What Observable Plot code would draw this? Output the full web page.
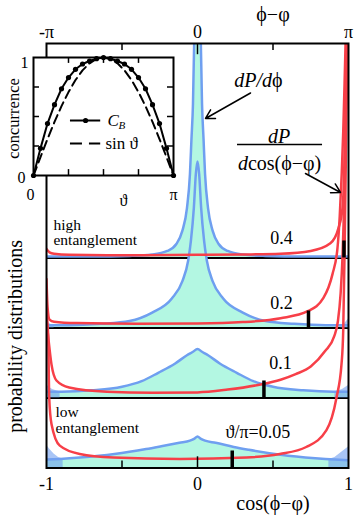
<!DOCTYPE html>
<html><head><meta charset="utf-8">
<script src="https://cdn.jsdelivr.net/npm/d3@7"></script>
<script src="https://cdn.jsdelivr.net/npm/@observablehq/plot@0.6"></script>
<style>
body{margin:0;background:#fff;}
#wrap{position:relative;width:354px;height:518px;overflow:hidden;}
#wrap svg{position:absolute;left:0;}
</style></head><body><div id="wrap"></div>
<script>
// ---------------- data ----------------
// panels: ϑ/π values, bottom to top
const thetas = [0.05, 0.1, 0.2, 0.4];
const thetaLabels = ["ϑ/π=0.05", "0.1", "0.2", "0.4"];
// dP/dφ  : [ (φ−φ)/π , height in panel units ]
const blue005 = [[-1,0.12],[-0.91,0.13],[-0.78,0.15],[-0.55,0.2],[-0.34,0.27],[-0.24,0.31],[-0.12,0.36],[-0.05,0.39],[-0.02,0.42],[0,0.45],[0.02,0.42],[0.05,0.39],[0.12,0.36],[0.24,0.3],[0.34,0.26],[0.55,0.19],[0.78,0.14],[0.91,0.12],[1,0.11]];
const blue01 = [[-1,0.09],[-0.9,0.09],[-0.7,0.11],[-0.5,0.16],[-0.37,0.24],[-0.26,0.36],[-0.15,0.49],[-0.07,0.61],[-0.03,0.66],[0,0.7],[0.03,0.66],[0.07,0.61],[0.15,0.49],[0.26,0.36],[0.37,0.24],[0.5,0.16],[0.7,0.11],[0.9,0.09],[1,0.09]];
const blue02 = [[-1,0.04],[-0.85,0.04],[-0.64,0.06],[-0.45,0.1],[-0.3,0.22],[-0.17,0.42],[-0.1,0.67],[-0.062,0.96],[-0.044,1.24],[-0.024,1.72],[-0.011,2.2],[0,2.38],[0.011,2.2],[0.024,1.72],[0.044,1.24],[0.062,0.96],[0.1,0.67],[0.17,0.42],[0.3,0.22],[0.45,0.1],[0.64,0.06],[0.85,0.04],[1,0.04]];
const blue04 = [[-1,0.02],[-0.7,0.02],[-0.45,0.03],[-0.3,0.05],[-0.2,0.1],[-0.14,0.2],[-0.1,0.39],[-0.07,0.71],[-0.05,1.2],[-0.04,1.7],[-0.03,2.2],[-0.02,3.3],[-0.01,5.3],[0,8],[0.01,5.3],[0.02,3.3],[0.03,2.2],[0.04,1.7],[0.05,1.2],[0.07,0.71],[0.1,0.39],[0.14,0.2],[0.2,0.1],[0.3,0.05],[0.45,0.03],[0.7,0.02],[1,0.02]];
// numerical noise envelope of dP/dφ at the edges
const noise005 = [[-1,0.33],[-0.98,0.27],[-0.95,0.2],[-0.92,0.15],[-0.89,0.13],[0.87,0.12],[0.91,0.15],[0.94,0.2],[0.97,0.25],[1,0.3]];
const noise01 = [[-1,0.19],[-0.98,0.15],[-0.96,0.12],[-0.93,0.1],[-0.91,0.09],[0.91,0.09],[0.93,0.1],[0.96,0.12],[0.98,0.15],[1,0.18]];
const noise02 = [[-1,0.12],[-0.985,0.07],[-0.97,0.05],[-0.95,0.04],[0.95,0.04],[0.97,0.05],[0.985,0.09],[1,0.13]];
const noise04 = [];
// dP/dcos(φ−φ) : [ cos(φ−φ) , height in panel units ]
const red005 = [[-1,2.2],[-0.989,1.9],[-0.982,1.0],[-0.967,0.63],[-0.912,0.32],[-0.78,0.2],[-0.558,0.15],[-0.117,0.13],[0.325,0.15],[0.545,0.2],[0.72,0.3],[0.854,0.54],[0.92,1.0],[0.954,1.49],[0.965,1.96],[0.974,3.1],[0.983,4.5],[0.993,6.1]];
const red01 = [[-1,1.1],[-0.99,0.9],[-0.967,0.48],[-0.934,0.25],[-0.85,0.15],[-0.6,0.09],[-0.3,0.076],[0,0.08],[0.2,0.12],[0.41,0.19],[0.55,0.26],[0.65,0.34],[0.75,0.45],[0.845,0.67],[0.905,0.88],[0.93,1.1],[0.948,1.5],[0.96,2.0],[0.972,2.9],[0.981,4.0],[0.99,5.1]];
const red02 = [[-1,0.7],[-0.993,0.3],[-0.98,0.12],[-0.95,0.09],[-0.8,0.07],[-0.4,0.06],[0,0.065],[0.3,0.085],[0.55,0.14],[0.73,0.24],[0.834,0.43],[0.894,0.77],[0.927,1.14],[0.942,1.6],[0.955,2.2],[0.965,2.8],[0.974,3.5],[0.981,4.1],[0.99,5]];
const red04 = [[-1,0.13],[-0.98,0.08],[-0.95,0.06],[-0.85,0.045],[-0.5,0.04],[0,0.045],[0.3,0.05],[0.55,0.06],[0.75,0.1],[0.88,0.21],[0.934,0.43],[0.96,0.71],[0.968,1.0],[0.976,1.6],[0.983,2.3],[0.99,3.1],[0.996,4]];
// inset: concurrence vs ϑ/π
const thetaGrid = [0,0.05,0.1,0.15,0.2,0.25,0.3,0.35,0.4,0.45,0.5,0.55,0.6,0.65,0.7,0.75,0.8,0.85,0.9,0.95,1];
const concurrenceCB = [0,0.23,0.44,0.6,0.735,0.83,0.9,0.945,0.97,0.99,1,0.99,0.97,0.945,0.9,0.83,0.735,0.6,0.44,0.23,0];
const sinTheta = [0,0.156,0.309,0.454,0.588,0.707,0.809,0.891,0.951,0.988,1,0.988,0.951,0.891,0.809,0.707,0.588,0.454,0.309,0.156,0];
// axes
const topTicks = [-1, 0, 1], topTickLabels = ["-π", "0", "π"];
const bottomTicks = [-1, 0, 1], bottomTickLabels = ["-1", "0", "1"];
const minorTicks = [-0.5, 0, 0.5];
const insetTicks = [0.25, 0.5, 0.75];

// ---------------- styling / layout ----------------
const FONT = "'Liberation Serif','DejaVu Serif','Times New Roman',serif";
const BLUE = "#6f9ff0", RED = "#f73f48", FILL = "#b3f7e2";
const yTop = 6.064;
const panels = [
  {theta: thetas[0], base: 0, blue: blue005, red: red005, noise: noise005},
  {theta: thetas[1], base: 1, blue: blue01, red: red01, noise: noise01},
  {theta: thetas[2], base: 2, blue: blue02, red: red02, noise: noise02},
  {theta: thetas[3], base: 3, blue: blue04, red: red04, noise: noise04}
];
const cbAt = t => concurrenceCB[thetaGrid.findIndex(g => Math.abs(g - t) < 1e-9)];

const marks = [];
// fills and separators, top panel first
for (const p of [...panels].reverse()) {
  marks.push(Plot.areaY(p.blue, {x: d => d[0], y1: p.base, y2: d => p.base + d[1], fill: FILL, curve: "monotone-x", clip: true}));
  if (p.base > 0) marks.push(Plot.ruleY([p.base], {stroke: "black", strokeWidth: 2}));
}
for (const p of panels) {
  if (p.noise.length) marks.push(Plot.areaY(p.noise, {x: d => d[0], y1: p.base, y2: d => p.base + d[1], z: d => d[0] < 0, fill: BLUE, fillOpacity: 0.6, clip: true}));
}
for (const p of panels) {
  marks.push(Plot.line(p.blue, {x: d => d[0], y: d => p.base + d[1], stroke: BLUE, strokeWidth: 2.5, curve: "monotone-x", clip: true}));
}
for (const p of panels) {
  marks.push(Plot.line(p.red, {x: d => d[0], y: d => p.base + d[1], stroke: RED, strokeWidth: 2.5, curve: "monotone-x", clip: true}));
}
// bars at C_B
marks.push(Plot.ruleX(panels, {x: p => cbAt(p.theta), y1: p => p.base, y2: p => p.base + 0.243, stroke: "black", strokeWidth: 3.5}));
// inward ticks
marks.push(Plot.ruleX(minorTicks, {x: d => d, y1: 0, y2: d => d === 0 ? 0.16 : 0.1, stroke: "black", strokeWidth: 1.5}));
marks.push(Plot.ruleX(minorTicks, {x: d => d, y1: yTop, y2: d => yTop - (d === 0 ? 0.16 : 0.1), stroke: "black", strokeWidth: 1.5}));
marks.push(Plot.frame({stroke: "black", strokeWidth: 2}));
// axis labels
marks.push(Plot.text(topTickLabels, {x: (d, i) => topTicks[i], frameAnchor: "top", lineAnchor: "middle", dy: -11, fontSize: 18}));
marks.push(Plot.text(["ϕ−φ"], {x: 0.5, frameAnchor: "top", lineAnchor: "middle", dy: -29, fontSize: 20}));
marks.push(Plot.text(bottomTickLabels, {x: (d, i) => bottomTicks[i], frameAnchor: "bottom", lineAnchor: "middle", dy: 16, fontSize: 18}));
marks.push(Plot.text(["cos(ϕ−φ)"], {x: 0.5, frameAnchor: "bottom", lineAnchor: "middle", dy: 36, fontSize: 20}));
marks.push(Plot.text(["probability distributions"], {x: -1, y: 1.879, dx: -31, rotate: -90, fontSize: 20}));
// panel labels
const panelLabelPos = [[0.4, 0.507], [0.55, 1.493], [0.556, 2.35], [0.556, 3.286]];
marks.push(Plot.text(panels, {x: (p, i) => panelLabelPos[i][0], y: (p, i) => panelLabelPos[i][1], text: (p, i) => thetaLabels[i], fontSize: 18}));
marks.push(Plot.text(["high", "entanglement", "low", "entanglement"], {x: (d, i) => i < 2 ? -0.954 : -0.94, y: (d, i) => [3.475, 3.25, 0.8, 0.575][i], textAnchor: "start", fontSize: 15.5}));
// dP/dφ annotation
marks.push(Plot.text(["dP/d"], {x: 0.493, y: 5.536, textAnchor: "end", fontStyle: "italic", fontSize: 20}));
marks.push(Plot.text(["ϕ"], {x: 0.493, y: 5.536, textAnchor: "start", fontSize: 20}));
marks.push(Plot.arrow([0], {x1: 0.351, y1: 5.357, x2: 0.053, y2: 4.993, stroke: "black", strokeWidth: 1.5, headLength: 10}));
// dP/dcos annotation
marks.push(Plot.text(["dP"], {x: 0.54, y: 4.73, fontStyle: "italic", fontSize: 20}));
marks.push(Plot.ruleY([4.621], {x1: 0.265, x2: 0.828, stroke: "black", strokeWidth: 1.3}));
marks.push(Plot.text(["d"], {x: 0.334, y: 4.35, textAnchor: "end", fontStyle: "italic", fontSize: 20}));
marks.push(Plot.text(["cos(ϕ−φ)"], {x: 0.334, y: 4.35, textAnchor: "start", fontSize: 20}));
marks.push(Plot.arrow([0], {x1: 0.715, y1: 4.207, x2: 0.947, y2: 3.936, stroke: "black", strokeWidth: 1.5, headLength: 10}));

const main = Plot.plot({
  width: 354, height: 518,
  marginLeft: 46, marginRight: 6, marginTop: 43, marginBottom: 50.5,
  x: {domain: [-1, 1], axis: null},
  y: {domain: [0, yTop], axis: null},
  style: {background: "white", fontFamily: FONT, color: "black", top: "0px"},
  marks
});

// ---------------- inset ----------------
const cbData = thetaGrid.map((t, i) => ({t, v: concurrenceCB[i]}));
const sinData = thetaGrid.map((t, i) => ({t, v: sinTheta[i]}));
const inset = Plot.plot({
  width: 190, height: 170,
  marginLeft: 33, marginRight: 17, marginTop: 17, marginBottom: 35,
  x: {domain: [0, 1], axis: null},
  y: {domain: [0, 1], axis: null},
  style: {background: "transparent", fontFamily: FONT, color: "black", top: "40px"},
  marks: [
    Plot.frame({fill: "white", stroke: null}),
    Plot.line(sinData, {x: "t", y: "v", stroke: "black", strokeWidth: 2, strokeDasharray: "9,5"}),
    Plot.line(cbData, {x: "t", y: "v", stroke: "black", strokeWidth: 2}),
    Plot.dot(cbData, {x: "t", y: "v", r: 2.6, fill: "black", stroke: null}),
    Plot.ruleX(insetTicks, {x: d => d, y1: 0, y2: 0.05, stroke: "black", strokeWidth: 1.5}),
    Plot.ruleX(insetTicks, {x: d => d, y1: 1, y2: 0.95, stroke: "black", strokeWidth: 1.5}),
    Plot.ruleY(insetTicks, {y: d => d, x1: 0, x2: 0.043, stroke: "black", strokeWidth: 1.5}),
    Plot.ruleY(insetTicks, {y: d => d, x1: 1, x2: 0.957, stroke: "black", strokeWidth: 1.5}),
    Plot.frame({stroke: "black", strokeWidth: 2}),
    // legend
    Plot.ruleY([0.466], {x1: 0.264, x2: 0.48, stroke: "black", strokeWidth: 2}),
    Plot.dot([0], {x: 0.372, y: 0.466, r: 2.6, fill: "black", stroke: null}),
    Plot.text(["C"], {x: 0.529, y: 0.466, textAnchor: "start", fontStyle: "italic", fontSize: 17}),
    Plot.text(["B"], {x: 0.529, y: 0.466, dx: 11, dy: 5, textAnchor: "start", fontStyle: "italic", fontSize: 11}),
    Plot.ruleY([0.271], {x1: 0.264, x2: 0.48, stroke: "black", strokeWidth: 2, strokeDasharray: "12,7"}),
    Plot.text(["sin ϑ"], {x: 0.514, y: 0.271, textAnchor: "start", fontSize: 17}),
    // axis labels
    Plot.text(["1"], {x: 0, y: 1, dx: -9, dy: 5, fontSize: 16}),
    Plot.text(["0"], {x: 0, y: 0, dx: -12, dy: 2, fontSize: 16}),
    Plot.text(["0"], {x: 0, y: 0, dx: -3, dy: 19, fontSize: 16}),
    Plot.text(["π"], {x: 1, y: 0, dy: 19, fontSize: 16}),
    Plot.text(["ϑ"], {x: 0.643, y: 0, dy: 25, fontSize: 16}),
    Plot.text(["concurrence"], {x: 0, y: 0.483, dx: -20, rotate: -90, fontSize: 16.5})
  ]
});

const wrap = document.getElementById("wrap");
wrap.appendChild(main);
wrap.appendChild(inset);
</script>
</body></html>
